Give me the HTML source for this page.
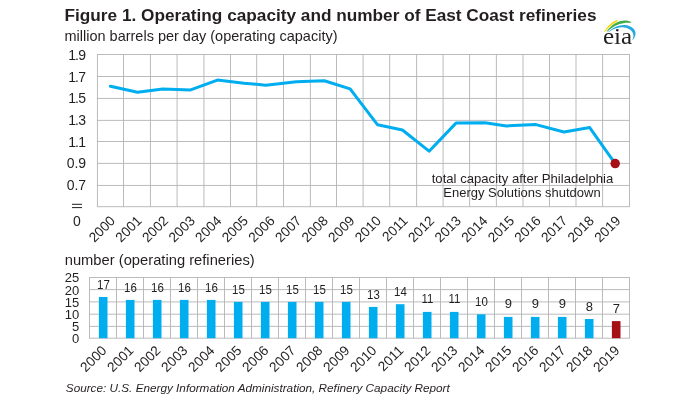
<!DOCTYPE html>
<html><head><meta charset="utf-8"><title>Figure 1</title>
<style>
html,body{margin:0;padding:0;background:#fff;}
body{width:700px;height:400px;overflow:hidden;font-family:"Liberation Sans", Arial, Helvetica, sans-serif;}
svg{display:block}
text{font-family:"Liberation Sans", Arial, Helvetica, sans-serif;fill:#231f20;}
</style></head><body>
<svg width="700" height="400" viewBox="0 0 700 400">
<rect width="700" height="400" fill="#fff"/>
<text x="64.5" y="20.5" font-size="15.6" font-weight="bold" textLength="532" lengthAdjust="spacingAndGlyphs">Figure 1. Operating capacity and number of East Coast refineries</text>
<text x="64.5" y="40.7" font-size="14.4" textLength="273" lengthAdjust="spacingAndGlyphs">million barrels per day (operating capacity)</text>
<path d="M96.95 54.50H630.0M96.95 76.50H630.0M96.95 98.45H630.0M96.95 120.40H630.0M96.95 141.50H630.0M96.95 163.40H630.0M96.95 185.45H630.0M96.95 206.70H630.0M97.45 54.5V206.7M123.50 54.5V206.7M150.45 54.5V206.7M177.10 54.5V206.7M203.95 54.5V206.7M230.50 54.5V206.7M256.70 54.5V206.7M283.50 54.5V206.7M310.40 54.5V206.7M336.50 54.5V206.7M363.10 54.5V206.7M389.70 54.5V206.7M416.60 54.5V206.7M443.10 54.5V206.7M469.60 54.5V206.7M496.40 54.5V206.7M523.00 54.5V206.7M549.50 54.5V206.7M576.00 54.5V206.7M602.60 54.5V206.7M629.50 54.5V206.7" stroke="#b3b3b7" stroke-width="0.9" fill="none"/>
<text y="59.90" font-size="14" x="68.2 74.9 78.3">1.9</text>
<text y="81.58" font-size="14" x="68.2 74.9 78.3">1.7</text>
<text y="103.26" font-size="14" x="68.2 74.9 78.3">1.5</text>
<text y="124.94" font-size="14" x="68.2 74.9 78.3">1.3</text>
<text y="146.62" font-size="14" x="68.2 74.9 78.3">1.1</text>
<text x="86.1" y="168.30" font-size="14" text-anchor="end">0.9</text>
<text x="86.1" y="189.98" font-size="14" text-anchor="end">0.7</text>
<path d="M72 204.3H82M72 207.6H82" stroke="#231f20" stroke-width="1"/>
<text x="76.8" y="226.2" font-size="14" text-anchor="middle">0</text>
<polyline points="110.4,86.3 137.5,92.3 162.8,88.9 190.6,89.9 217.4,80.1 244,83.2 265.8,85.2 296.4,81.7 324.3,80.7 350.1,88.9 377.6,124.8 402.4,130 429.1,151.2 456,123.1 485,122.7 506.5,125.9 536,124.6 564,132 589.7,127.6 615.2,163.6" fill="none" stroke="#00aeef" stroke-width="3" stroke-linejoin="round" stroke-linecap="round"/>
<circle cx="615.2" cy="163.6" r="4.75" fill="#a50f15"/>
<text x="522.5" y="182.8" font-size="13.3" text-anchor="middle" textLength="181.6" lengthAdjust="spacingAndGlyphs">total capacity after Philadelphia</text>
<text x="522.0" y="197.2" font-size="13.3" text-anchor="middle" textLength="157.3" lengthAdjust="spacingAndGlyphs">Energy Solutions shutdown</text>
<text transform="translate(115.95 221.50) rotate(-45)" font-size="13.7" text-anchor="end">2000</text>
<text transform="translate(142.56 221.50) rotate(-45)" font-size="13.7" text-anchor="end">2001</text>
<text transform="translate(169.16 221.50) rotate(-45)" font-size="13.7" text-anchor="end">2002</text>
<text transform="translate(195.77 221.50) rotate(-45)" font-size="13.7" text-anchor="end">2003</text>
<text transform="translate(222.37 221.50) rotate(-45)" font-size="13.7" text-anchor="end">2004</text>
<text transform="translate(248.98 221.50) rotate(-45)" font-size="13.7" text-anchor="end">2005</text>
<text transform="translate(275.58 221.50) rotate(-45)" font-size="13.7" text-anchor="end">2006</text>
<text transform="translate(302.19 221.50) rotate(-45)" font-size="13.7" text-anchor="end">2007</text>
<text transform="translate(328.79 221.50) rotate(-45)" font-size="13.7" text-anchor="end">2008</text>
<text transform="translate(355.40 221.50) rotate(-45)" font-size="13.7" text-anchor="end">2009</text>
<text transform="translate(382.00 221.50) rotate(-45)" font-size="13.7" text-anchor="end">2010</text>
<text transform="translate(408.61 221.50) rotate(-45)" font-size="13.7" text-anchor="end">2011</text>
<text transform="translate(435.21 221.50) rotate(-45)" font-size="13.7" text-anchor="end">2012</text>
<text transform="translate(461.82 221.50) rotate(-45)" font-size="13.7" text-anchor="end">2013</text>
<text transform="translate(488.42 221.50) rotate(-45)" font-size="13.7" text-anchor="end">2014</text>
<text transform="translate(515.03 221.50) rotate(-45)" font-size="13.7" text-anchor="end">2015</text>
<text transform="translate(541.63 221.50) rotate(-45)" font-size="13.7" text-anchor="end">2016</text>
<text transform="translate(568.24 221.50) rotate(-45)" font-size="13.7" text-anchor="end">2017</text>
<text transform="translate(594.84 221.50) rotate(-45)" font-size="13.7" text-anchor="end">2018</text>
<text transform="translate(621.45 221.50) rotate(-45)" font-size="13.7" text-anchor="end">2019</text>
<text x="64.7" y="265.3" font-size="14.4" textLength="190" lengthAdjust="spacingAndGlyphs">number (operating refineries)</text>
<path d="M89.0 277.50H630.0M89.0 289.60H630.0M89.0 301.90H630.0M89.0 314.20H630.0M89.0 326.40H630.0M89.0 338.20H630.0M89.50 277.5V338.2M116.50 277.5V338.2M143.50 277.5V338.2M170.50 277.5V338.2M197.50 277.5V338.2M224.50 277.5V338.2M251.50 277.5V338.2M278.50 277.5V338.2M305.50 277.5V338.2M332.50 277.5V338.2M359.50 277.5V338.2M386.50 277.5V338.2M413.50 277.5V338.2M440.50 277.5V338.2M467.50 277.5V338.2M494.50 277.5V338.2M521.50 277.5V338.2M548.50 277.5V338.2M575.50 277.5V338.2M602.50 277.5V338.2M629.50 277.5V338.2" stroke="#b3b3b7" stroke-width="0.9" fill="none"/>
<text x="79.2" y="282.40" font-size="13" text-anchor="end">25</text>
<text x="79.2" y="294.56" font-size="13" text-anchor="end">20</text>
<text x="79.2" y="306.72" font-size="13" text-anchor="end">15</text>
<text x="79.2" y="318.88" font-size="13" text-anchor="end">10</text>
<text x="79.2" y="331.04" font-size="13" text-anchor="end">5</text>
<text x="79.2" y="343.20" font-size="13" text-anchor="end">0</text>
<rect x="98.90" y="297.00" width="8.6" height="41.20" fill="#00aeef"/>
<text transform="translate(103.50 289.10) scale(0.935 1)" font-size="12.3" text-anchor="middle">17</text>
<rect x="125.90" y="299.90" width="8.6" height="38.30" fill="#00aeef"/>
<text transform="translate(130.50 292.00) scale(0.935 1)" font-size="12.3" text-anchor="middle">16</text>
<rect x="152.90" y="299.90" width="8.6" height="38.30" fill="#00aeef"/>
<text transform="translate(157.50 292.00) scale(0.935 1)" font-size="12.3" text-anchor="middle">16</text>
<rect x="179.90" y="299.90" width="8.6" height="38.30" fill="#00aeef"/>
<text transform="translate(184.50 292.00) scale(0.935 1)" font-size="12.3" text-anchor="middle">16</text>
<rect x="206.90" y="299.90" width="8.6" height="38.30" fill="#00aeef"/>
<text transform="translate(211.50 292.00) scale(0.935 1)" font-size="12.3" text-anchor="middle">16</text>
<rect x="233.90" y="301.90" width="8.6" height="36.30" fill="#00aeef"/>
<text transform="translate(238.50 294.00) scale(0.935 1)" font-size="12.3" text-anchor="middle">15</text>
<rect x="260.90" y="301.90" width="8.6" height="36.30" fill="#00aeef"/>
<text transform="translate(265.50 294.00) scale(0.935 1)" font-size="12.3" text-anchor="middle">15</text>
<rect x="287.90" y="301.90" width="8.6" height="36.30" fill="#00aeef"/>
<text transform="translate(292.50 294.00) scale(0.935 1)" font-size="12.3" text-anchor="middle">15</text>
<rect x="314.90" y="301.90" width="8.6" height="36.30" fill="#00aeef"/>
<text transform="translate(319.50 294.00) scale(0.935 1)" font-size="12.3" text-anchor="middle">15</text>
<rect x="341.90" y="301.90" width="8.6" height="36.30" fill="#00aeef"/>
<text transform="translate(346.50 294.00) scale(0.935 1)" font-size="12.3" text-anchor="middle">15</text>
<rect x="368.90" y="306.90" width="8.6" height="31.30" fill="#00aeef"/>
<text transform="translate(373.50 299.00) scale(0.935 1)" font-size="12.3" text-anchor="middle">13</text>
<rect x="395.90" y="304.20" width="8.6" height="34.00" fill="#00aeef"/>
<text transform="translate(400.50 296.30) scale(0.935 1)" font-size="12.3" text-anchor="middle">14</text>
<rect x="422.90" y="311.90" width="8.6" height="26.30" fill="#00aeef"/>
<text transform="translate(427.50 302.70) scale(0.935 1)" font-size="12.3" text-anchor="middle">11</text>
<rect x="449.90" y="311.90" width="8.6" height="26.30" fill="#00aeef"/>
<text transform="translate(454.50 302.70) scale(0.935 1)" font-size="12.3" text-anchor="middle">11</text>
<rect x="476.90" y="314.30" width="8.6" height="23.90" fill="#00aeef"/>
<text transform="translate(481.50 306.40) scale(0.935 1)" font-size="12.3" text-anchor="middle">10</text>
<rect x="503.90" y="316.90" width="8.6" height="21.30" fill="#00aeef"/>
<text x="508.30" y="307.60" font-size="13" text-anchor="middle">9</text>
<rect x="530.90" y="316.90" width="8.6" height="21.30" fill="#00aeef"/>
<text x="535.30" y="307.60" font-size="13" text-anchor="middle">9</text>
<rect x="557.90" y="316.90" width="8.6" height="21.30" fill="#00aeef"/>
<text x="562.30" y="307.60" font-size="13" text-anchor="middle">9</text>
<rect x="584.90" y="319.00" width="8.6" height="19.20" fill="#00aeef"/>
<text x="589.30" y="311.40" font-size="13" text-anchor="middle">8</text>
<rect x="611.90" y="321.10" width="8.6" height="17.10" fill="#a50f15"/>
<text x="616.30" y="313.00" font-size="13" text-anchor="middle">7</text>
<text transform="translate(107.40 351.30) rotate(-45)" font-size="13.7" text-anchor="end">2000</text>
<text transform="translate(134.40 351.30) rotate(-45)" font-size="13.7" text-anchor="end">2001</text>
<text transform="translate(161.40 351.30) rotate(-45)" font-size="13.7" text-anchor="end">2002</text>
<text transform="translate(188.40 351.30) rotate(-45)" font-size="13.7" text-anchor="end">2003</text>
<text transform="translate(215.40 351.30) rotate(-45)" font-size="13.7" text-anchor="end">2004</text>
<text transform="translate(242.40 351.30) rotate(-45)" font-size="13.7" text-anchor="end">2005</text>
<text transform="translate(269.40 351.30) rotate(-45)" font-size="13.7" text-anchor="end">2006</text>
<text transform="translate(296.40 351.30) rotate(-45)" font-size="13.7" text-anchor="end">2007</text>
<text transform="translate(323.40 351.30) rotate(-45)" font-size="13.7" text-anchor="end">2008</text>
<text transform="translate(350.40 351.30) rotate(-45)" font-size="13.7" text-anchor="end">2009</text>
<text transform="translate(377.40 351.30) rotate(-45)" font-size="13.7" text-anchor="end">2010</text>
<text transform="translate(404.40 351.30) rotate(-45)" font-size="13.7" text-anchor="end">2011</text>
<text transform="translate(431.40 351.30) rotate(-45)" font-size="13.7" text-anchor="end">2012</text>
<text transform="translate(458.40 351.30) rotate(-45)" font-size="13.7" text-anchor="end">2013</text>
<text transform="translate(485.40 351.30) rotate(-45)" font-size="13.7" text-anchor="end">2014</text>
<text transform="translate(512.40 351.30) rotate(-45)" font-size="13.7" text-anchor="end">2015</text>
<text transform="translate(539.40 351.30) rotate(-45)" font-size="13.7" text-anchor="end">2016</text>
<text transform="translate(566.40 351.30) rotate(-45)" font-size="13.7" text-anchor="end">2017</text>
<text transform="translate(593.40 351.30) rotate(-45)" font-size="13.7" text-anchor="end">2018</text>
<text transform="translate(620.40 351.30) rotate(-45)" font-size="13.7" text-anchor="end">2019</text>
<text x="65.8" y="391.9" font-size="11.6" font-style="italic" textLength="384" lengthAdjust="spacingAndGlyphs">Source: U.S. Energy Information Administration, Refinery Capacity Report</text>
<g>
<path d="M604.2 31.5C607.4 26.1 611.5 22.1 617.2 19.7L617.6 21.2C612.4 23.8 608.4 27.5 605 32Z" fill="#fbd90f"/>
<path d="M606.6 31.5C611.5 24.6 617.8 20.6 624.8 20.5C627 20.5 629 21 630.9 21.9L630.8 22.9C628.6 22.8 626.6 22.7 624.4 22.9C618 23.5 612.2 26.6 607 31.8Z" fill="#41ad49"/>
<path d="M608 31.9C613 27.2 618.6 24.8 624.2 24.9C628.3 25 631.8 26.6 634 29.3C636.4 32.4 636 36.4 632.8 40L632.4 39.6C634 36.6 633.8 33.6 631.8 31.2C630 29 627.2 27.6 623.8 27.4C618.8 27.1 613.4 28.7 608.3 32.3Z" fill="#26a9e0"/>
<text transform="translate(602.9 44.3) scale(1.09 1)" font-size="23" style="font-family:'Liberation Serif','Times New Roman',serif" fill="#231f20">eia</text>
</g>
</svg>
</body></html>
